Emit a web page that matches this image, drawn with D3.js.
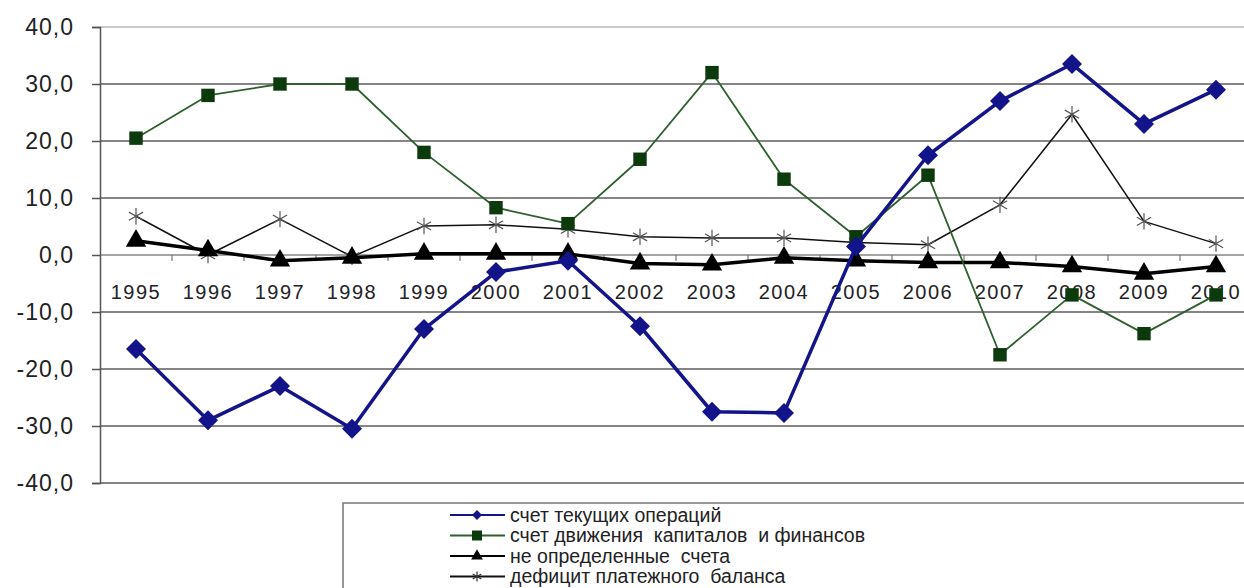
<!DOCTYPE html>
<html>
<head>
<meta charset="utf-8">
<script src="https://cdn.jsdelivr.net/npm/d3@7"></script>
<style>
  body { margin: 0; background: #fff; }
  svg { display: block; font-family: Arial, "Liberation Sans", sans-serif; }
</style>
</head>
<body>
<div id="wrapper"></div>
<script>
// data
const years = ['1995', '1996', '1997', '1998', '1999', '2000', '2001', '2002',
  '2003', '2004', '2005', '2006', '2007', '2008', '2009', '2010'];
const currentAccount = [-16.5, -29, -23, -30.5, -13, -3, -1, -12.5,
  -27.5, -27.7, 1.5, 17.5, 27, 33.5, 23, 29];
const capitalAccount = [20.5, 28, 30, 30, 18, 8.3, 5.5, 16.8,
  32, 13.3, 3.2, 14, -17.5, -7, -13.8, -7];
const undefinedAccounts = [2.5, 0.8, -1, -0.5, 0.2, 0.2, 0.2, -1.5,
  -1.7, -0.5, -1, -1.3, -1.3, -2, -3.3, -2];
const deficit = [6.8, 0, 6.3, -0.3, 5.1, 5.3, 4.5, 3.2,
  3, 3, 2.2, 1.8, 8.8, 24.7, 5.9, 2];
const yTicks = [40, 30, 20, 10, 0, -10, -20, -30, -40];
const seriesNames = ['счет текущих операций', 'счет движения  капиталов  и финансов',
  'не определенные  счета', 'дефицит платежного  баланса'];

const dimensions = {
  width: 1244,
  height: 588,
  margin: { top: 27, right: 0, bottom: 105, left: 100 }
};
dimensions.boundedHeight = dimensions.height - dimensions.margin.top - dimensions.margin.bottom;

const wrapper = d3.select('#wrapper').append('svg')
  .attr('width', dimensions.width)
  .attr('height', dimensions.height);

const bounds = wrapper.append('g')
  .attr('transform', `translate(${dimensions.margin.left},${dimensions.margin.top})`);

// scales
const xScale = d3.scaleBand()
  .domain(years)
  .range([0, years.length * 72]);
const xPos = d => xScale(d) + xScale.bandwidth() / 2;

const yScale = d3.scaleLinear()
  .domain([-40, 40])
  .range([dimensions.boundedHeight, 0]);

// gridlines
bounds.append('g')
  .selectAll('line')
  .data(yTicks)
  .join('line')
  .attr('x1', 0)
  .attr('x2', dimensions.width)
  .attr('y1', d => yScale(d))
  .attr('y2', d => yScale(d))
  .attr('stroke', d => d === 40 ? '#c8c8c8' : '#858585')
  .attr('stroke-width', d => d === 0 ? 1.5 : 2);

// y axis
const yAxis = bounds.append('g')
  .call(d3.axisLeft(yScale).tickValues(yTicks).tickSize(8).tickPadding(18)
    .tickFormat(d => d3.format('.1f')(d).replace('.', ',').replace('−', '-')));
yAxis.select('.domain').attr('stroke', '#555').attr('stroke-width', 1.5);
yAxis.selectAll('.tick line').attr('stroke', '#555').attr('stroke-width', 1.5);
yAxis.selectAll('.tick text')
  .attr('font-size', 23)
  .attr('letter-spacing', 1)
  .attr('fill', '#222');

// x axis on zero line
const xAxis = bounds.append('g')
  .attr('transform', `translate(0,${yScale(0)})`)
  .call(d3.axisBottom(xScale).tickSize(0).tickPadding(30));
xAxis.select('.domain').remove();
xAxis.selectAll('.tick text')
  .attr('font-size', 20)
  .attr('letter-spacing', 1.5)
  .attr('fill', '#222');
xAxis.selectAll('.minor')
  .data(years.slice(1))
  .join('line')
  .attr('class', 'minor')
  .attr('x1', d => xScale(d))
  .attr('x2', d => xScale(d))
  .attr('y1', 0)
  .attr('y2', 6)
  .attr('stroke', '#777')
  .attr('stroke-width', 1.2);

// series
const series = [
  { name: seriesNames[0], values: currentAccount, color: '#14148a', width: 3.5, marker: d3.symbolSquare, rotate: 45, size: 200, fill: '#14148a', legendSize: 50 },
  { name: seriesNames[1], values: capitalAccount, color: '#2f5f2f', width: 1.8, marker: d3.symbolSquare, rotate: 0, size: 180, fill: '#0c3a0c', legendSize: 100 },
  { name: seriesNames[2], values: undefinedAccounts, color: '#000', width: 3.5, marker: d3.symbolTriangle, rotate: 0, size: 180, fill: '#000', legendSize: 60 },
  { name: seriesNames[3], values: deficit, color: '#111', width: 1.5, marker: d3.symbolAsterisk, rotate: 0, size: 190, fill: 'none', legendSize: 70 }
];
const drawOrder = [series[3], series[2], series[1], series[0]];

const lineGenerator = d3.line()
  .x((d, i) => xPos(years[i]))
  .y(d => yScale(d));

drawOrder.forEach(s => {
  bounds.append('path')
    .attr('d', lineGenerator(s.values))
    .attr('fill', 'none')
    .attr('stroke', s.color)
    .attr('stroke-width', s.width)
    .attr('stroke-linejoin', 'round');

  bounds.append('g')
    .selectAll('path')
    .data(s.values)
    .join('path')
    .attr('transform', (d, i) => `translate(${xPos(years[i])},${yScale(d)}) rotate(${s.rotate})`)
    .attr('d', d3.symbol(s.marker, s.size))
    .attr('fill', s.fill)
    .attr('stroke', s.fill === 'none' ? '#555' : 'none')
    .attr('stroke-width', 1.2);
});

// legend
const legend = wrapper.append('g');
legend.append('rect')
  .attr('x', 343)
  .attr('y', 503)
  .attr('width', 960)
  .attr('height', 120)
  .attr('fill', '#fff')
  .attr('stroke', '#777')
  .attr('stroke-width', 1.5);

const items = legend.selectAll('.item')
  .data(series)
  .join('g')
  .attr('class', 'item')
  .attr('transform', (d, i) => `translate(450,${515 + i * 20.5})`);

items.append('line')
  .attr('x1', 0).attr('x2', 55)
  .attr('stroke', d => d.color)
  .attr('stroke-width', 2.2);
items.append('path')
  .attr('transform', d => `translate(27,0) rotate(${d.rotate})`)
  .attr('d', d => d3.symbol(d.marker, d.legendSize)())
  .attr('fill', d => d.fill)
  .attr('stroke', d => d.fill === 'none' ? '#333' : 'none')
  .attr('stroke-width', 1.2);
items.append('text')
  .attr('x', 60)
  .attr('dy', '0.35em')
  .attr('font-size', 19.5)
  .attr('fill', '#222')
  .style('white-space', 'pre')
  .text(d => d.name);
</script>
</body>
</html>
